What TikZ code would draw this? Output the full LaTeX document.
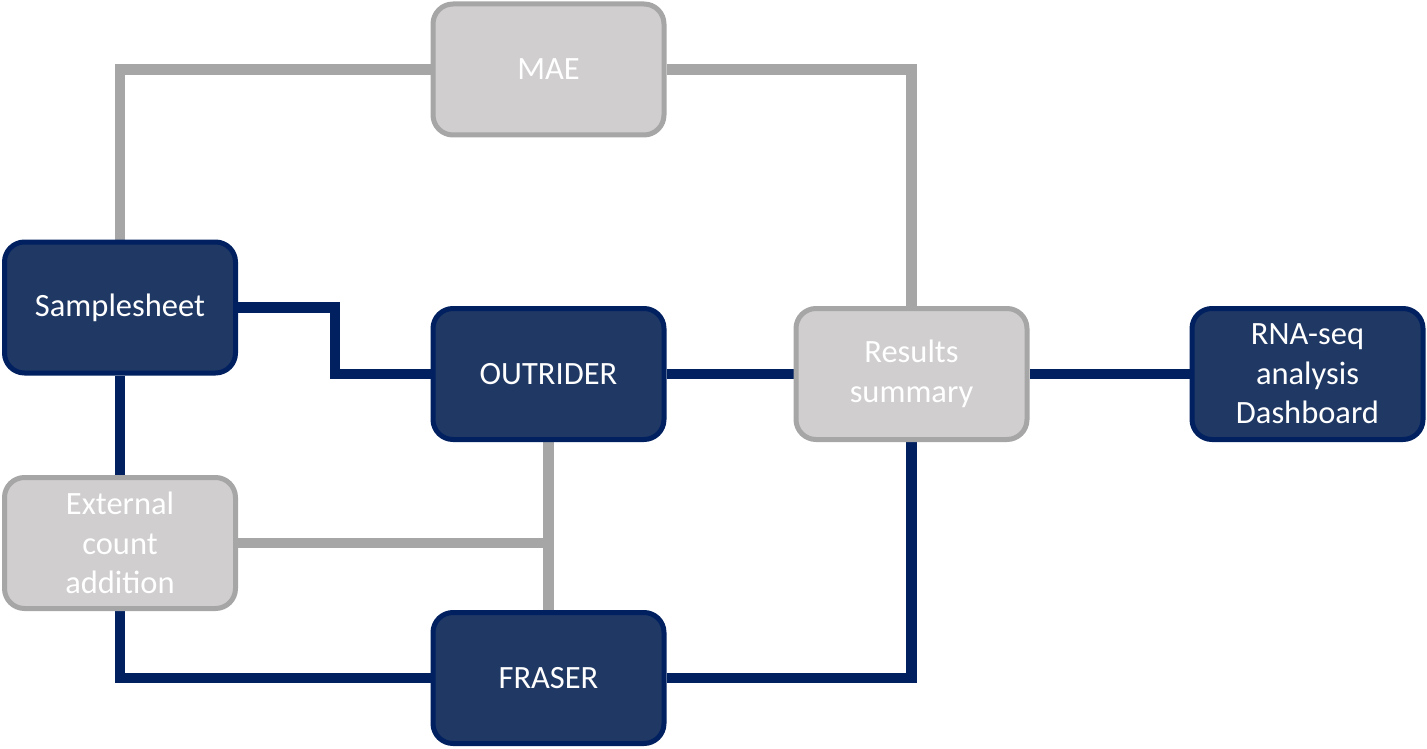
\documentclass[tikz,border=0pt]{standalone}
\usepackage{fontspec}
\setmainfont{Carlito}
\usetikzlibrary{backgrounds}
\definecolor{navyfill}{HTML}{203864}
\definecolor{navyline}{HTML}{002060}
\definecolor{grayfill}{HTML}{D0CECE}
\definecolor{grayline}{HTML}{A6A6A6}
\begin{document}
\begin{tikzpicture}[x=1pt,y=-1pt,
  box/.style={rounded corners=20pt, line width=5pt, minimum width=231pt, minimum height=131pt,
    align=center, text=white, font=\fontsize{32.5}{39.5}\selectfont, inner sep=0pt},
  dbox/.style={box, fill=navyfill, draw=navyline},
  gbox/.style={box, fill=grayfill, draw=grayline},
  dline/.style={line width=10.5pt, draw=navyline},
  gline/.style={line width=10.5pt, draw=grayline}]
\useasboundingbox (0,0) rectangle (1427,749);
\node[gbox] (mae) at (548.5,69.5) {MAE};
\node[dbox] (ss) at (120,307.5) {Samplesheet};
\node[dbox] (out) at (548.5,374) {OUTRIDER};
\node[gbox] (res) at (911.5,374) {Results\\summary};
\node[dbox] (dash) at (1307.5,374) {RNA-seq\\analysis\\Dashboard};
\node[gbox] (ext) at (120,543) {External\\count\\addition};
\node[dbox] (fr) at (548.5,678) {FRASER};
\coordinate (j1) at (335,374);
\coordinate (j2) at (548.5,543);
\begin{scope}[on background layer]
\draw[gline] (ss.north) |- (mae.west);
\draw[gline] (mae.east) -| (res.north);
\draw[dline] (ss.east) -| (j1) -- (out.west);
\draw[dline] (out.east) -- (res.west);
\draw[dline] (res.east) -- (dash.west);
\draw[dline] (ss.south) -- (ext.north);
\draw[gline] (out.south) -- (fr.north);
\draw[gline] (ext.east) -- (j2);
\draw[dline] (ext.south) |- (fr.west);
\draw[dline] (fr.east) -| (res.south);
\end{scope}
\end{tikzpicture}
\end{document}
